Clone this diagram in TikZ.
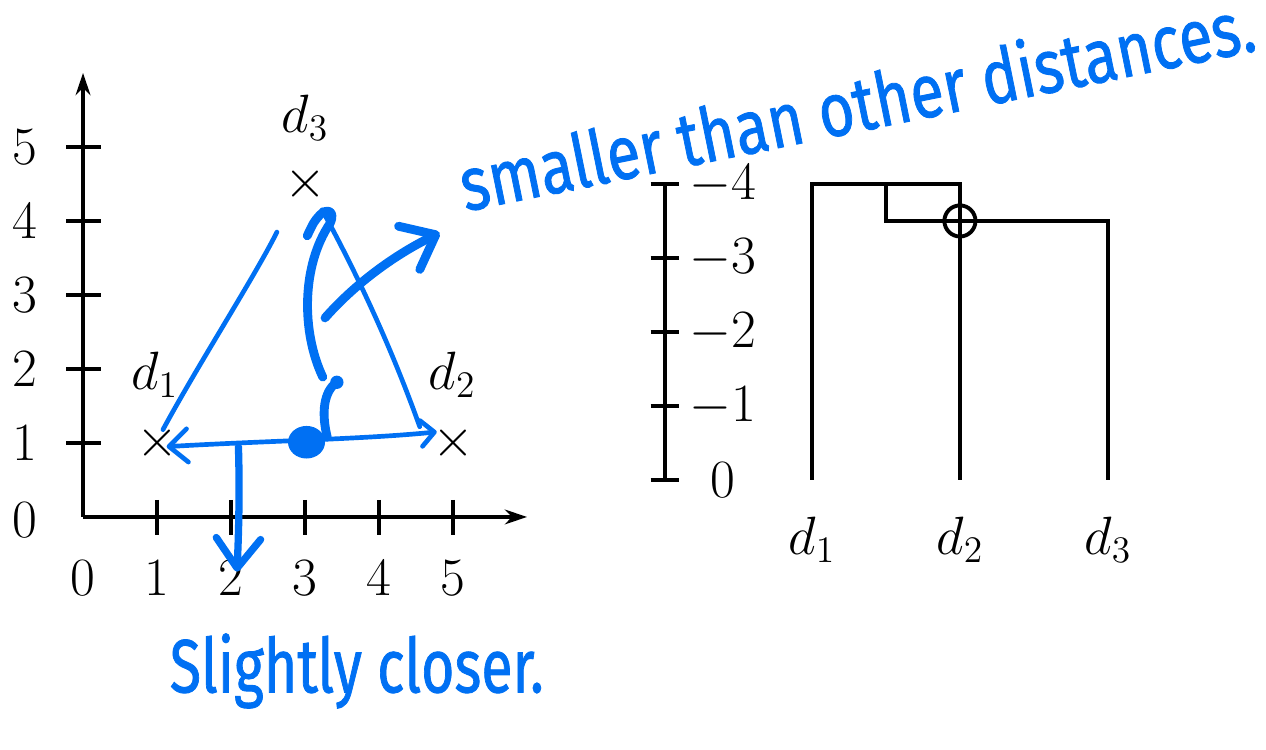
\documentclass[tikz,border=0pt]{standalone}
\usepackage{fontspec}
\newfontfamily\handfont{Fira Sans}[FakeBold=1.2]
\usetikzlibrary{arrows.meta}
\definecolor{ink}{RGB}{0,112,243}

\begin{document}
\begin{tikzpicture}[
  >={Stealth[length=3mm,width=2mm]},
  every node/.style={font=\fontsize{20}{24}\selectfont},
  axis/.style={line width=1.5pt},
  tree/.style={line width=1.5pt},
  pen/.style={ink,line width=1.8pt,line cap=round,line join=round},
  fatpen/.style={pen,line width=3.4pt},
  note/.style={text=ink,inner sep=0pt,font=\handfont\fontsize{29}{31}\selectfont}
]
  \useasboundingbox (-1.122,-3.149) rectangle (15.986,6.986);

  % scatter plot
  \draw[axis,->] (0,0) -- (6,0);
  \draw[axis,->] (0,0) -- (0,6);
  \node (x0) at (0,-0.82) {$0$};
  \node (y0) at (-0.78,-0.04) {$0$};
  \foreach \i in {1,...,5} {
    \draw[axis] (\i,0.23) -- (\i,-0.24);
    \draw[axis] (-0.23,\i) -- (0.24,\i);
    \node (x\i) at (\i,-0.82) {$\i$};
    \node (y\i) at (-0.78,\i) {$\i$};
  }
  \node (p1) at (1,1) {$\times$};
  \node (p2) at (5,1) {$\times$};
  \node (p3) at (3,4.5) {$\times$};
  \node (n1) at (0.97,1.92) {$d_1$};
  \node (n2) at (4.99,1.92) {$d_2$};
  \node (n3) at (3,5.39) {$d_3$};

  % dendrogram
  \draw[tree] (7.865,0.5) -- (7.865,4.5);
  \foreach \h/\t in {0/0,1/-1,2/-2,3/-3,4/-4} {
    \draw[tree] (7.67,0.5+\h) -- (8.06,0.5+\h);
    \node (h\h) at (8.65,0.5+\h) {$\t$};
  }
  \coordinate (l1) at (9.85,0.5);
  \coordinate (l2) at (11.85,0.5);
  \coordinate (l3) at (13.85,0.5);
  \coordinate (m23) at (10.85,4.0);
  \coordinate (top) at (11.85,4.5);
  \draw[tree] (l1) |- (top) -- (l2);
  \draw[tree] (l3) |- (m23) |- (top);
  \node[draw,circle,line width=1.5pt,minimum size=0.42cm,inner sep=0pt] (hit) at (l2 |- m23) {};
  \node (t1) at (9.85,-0.31) {$d_1$};
  \node (t2) at (11.85,-0.31) {$d_2$};
  \node (t3) at (13.85,-0.31) {$d_3$};

  % blue notes
  \coordinate (a1) at (1.08,1.18);
  \coordinate (a2) at (2.62,3.85);
  \coordinate (b1) at (3.23,4.15);
  \coordinate (b2) at (4.55,1.22);
  \coordinate (c1) at (1.13,0.95);
  \coordinate (c2) at (4.78,1.15);
  \coordinate (blob) at (3.02,1.01);
  \coordinate (dot) at (3.43,1.82);
  \coordinate (e1) at (3.27,2.69);
  \coordinate (e2) at (4.82,3.84);
  \coordinate (f1) at (2.1,0.95);
  \coordinate (f2) at (2.08,-0.74);
  \draw[pen] (a1) .. controls (1.55,2.05) and (2.35,3.3) .. (a2);
  \draw[pen] (b1) .. controls (3.75,3.2) and (4.2,2.2) .. (b2);
  \draw[pen,{Straight Barb[round,length=2.5mm,width=4.5mm]}-{Straight Barb[round,length=1.8mm,width=3.5mm]}]
    (c1) .. controls (2.5,1.03) and (3.8,1.05) .. (c2);
  \fill[ink] (blob) ellipse [x radius=0.25,y radius=0.22];
  \draw[fatpen] (3.3,1.08) .. controls (3.22,1.4) and (3.25,1.7) .. (dot);
  \fill[ink] (dot) circle (0.09);
  \draw[fatpen] (3.24,1.89) .. controls (2.95,2.5) and (2.95,3.4) .. (3.34,3.97)
    .. controls (3.42,4.15) and (3.28,4.17) .. (3.2,4.08) .. controls (3.12,3.99) .. (3.03,3.8);
  \draw[fatpen,-{Straight Barb[round,length=4mm,width=6.5mm]}]
    (e1) .. controls (3.64,3.11) and (4.15,3.51) .. (e2);
  \draw[fatpen,line width=2.8pt,-{Straight Barb[round,length=4mm,width=6mm]}]
    (f1) .. controls (2.12,0.3) and (2.1,-0.3) .. (f2);
  \node[note,rotate=11.5] (far) at (10.45,5.6) {\scalebox{.81}[1]{smaller than other distances.}};
  \node[note,anchor=base] (near) at (3.70,-2.37) {\scalebox{.76}[1]{Slightly closer.}};
\end{tikzpicture}
\end{document}
